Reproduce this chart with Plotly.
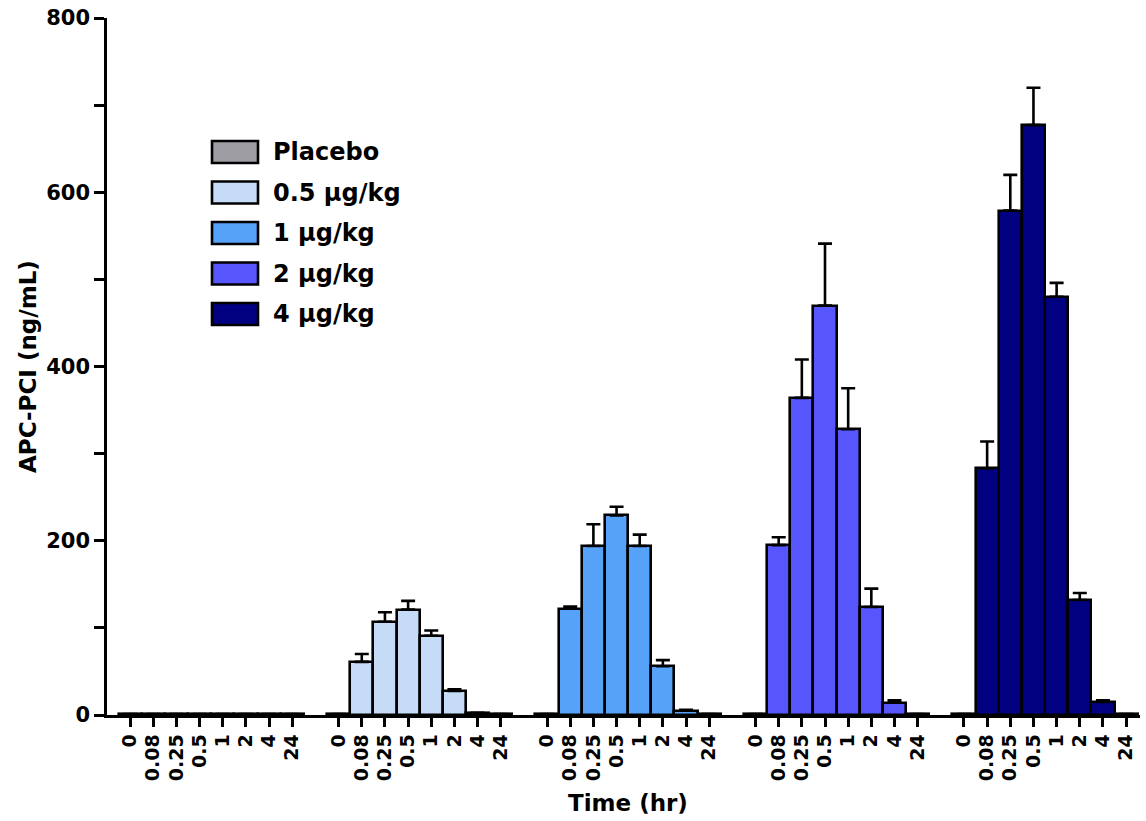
import plotly.graph_objects as go

times = ["0", "0.08", "0.25", "0.5", "1", "2", "4", "24"]
doses = ["Placebo", "0.5 μg/kg", "1 μg/kg", "2 μg/kg", "4 μg/kg"]
colors = ["#9d9da3", "#c6dcf6", "#57a2f9", "#5656fc", "#000080"]

placebo_mean = [1, 1, 1, 1, 1, 1, 1, 1]
placebo_err = [0, 0, 0, 0, 0, 0, 0, 0]
d05_mean = [1, 61, 107, 121, 91, 27.5, 2, 1]
d05_err = [0, 9, 11, 10, 6, 2, 0.5, 0]
d1_mean = [1, 122, 194, 229, 194, 56, 5, 1]
d1_err = [0, 2.5, 25, 10, 13, 7, 1, 0]
d2_mean = [1, 195, 364, 470, 328, 124, 14, 1]
d2_err = [0, 9, 44, 71, 47, 21, 3, 0]
d4_mean = [1, 283, 579, 677, 480, 132, 15, 1]
d4_err = [0, 31, 41, 43, 16, 8, 2, 0]

means = [placebo_mean, d05_mean, d1_mean, d2_mean, d4_mean]
errs = [placebo_err, d05_err, d1_err, d2_err, d4_err]

FONT = "DejaVu Sans, Arial, sans-serif"
LW = 2.6
slot = len(times) + 1

fig = go.Figure()
tickvals, ticktext = [], []
for g, (name, m, e, c) in enumerate(zip(doses, means, errs, colors)):
    xs = [g * slot + i for i in range(len(times))]
    tickvals += xs
    ticktext += times
    fig.add_trace(go.Bar(
        x=xs, y=m, name=name, width=1.0,
        marker=dict(color=c, line=dict(color="black", width=LW)),
        error_y=dict(type="data", array=[v if v > 0 else None for v in e],
                     arrayminus=[0] * len(e), symmetric=False,
                     color="black", thickness=LW, width=7),
        showlegend=False,
    ))

W, H = 1146, 821
L, R, T, B = 107, 6, 18, 106
pw, ph = W - L - R, H - T - B


def px(x):
    return (x - L) / pw


def py(y):
    return 1 - (y - T) / ph


# Legend drawn manually to match the swatch style
leg_x0, leg_x1 = 212, 258
leg_y0 = 152
leg_dy = 40.5
for i, (name, c) in enumerate(zip(doses, colors)):
    yc = leg_y0 + i * leg_dy
    fig.add_shape(type="rect", xref="paper", yref="paper",
                  x0=px(leg_x0), x1=px(leg_x1), y0=py(yc + 11), y1=py(yc - 11),
                  fillcolor=c, line=dict(color="black", width=LW))
    fig.add_annotation(xref="paper", yref="paper", x=px(271), y=py(yc),
                       text="<b>" + name + "</b>", showarrow=False,
                       xanchor="left", yanchor="middle",
                       font=dict(family=FONT, size=24, color="black"))

fig.add_annotation(xref="paper", yref="paper", x=px(628), y=py(803),
                   text="<b>Time (hr)</b>", showarrow=False,
                   xanchor="center", yanchor="middle",
                   font=dict(family=FONT, size=23, color="black"))
fig.add_annotation(xref="paper", yref="paper", x=px(28), y=py(367),
                   text="<b>APC-PCI (ng/mL)</b>", showarrow=False, textangle=-90,
                   xanchor="center", yanchor="middle",
                   font=dict(family=FONT, size=23, color="black"))

fig.update_layout(
    width=W, height=H,
    margin=dict(l=L, r=R, t=T, b=B, autoexpand=False),
    paper_bgcolor="white", plot_bgcolor="white",
    bargap=0,
    font=dict(family=FONT, color="black"),
    xaxis=dict(range=[-1, 43.6], tickmode="array", tickvals=tickvals,
               ticktext=["<b>" + t + "</b>" for t in ticktext],
               tickangle=-90, ticks="outside", ticklen=9, tickwidth=LW,
               tickcolor="black", showline=True, linecolor="black", linewidth=LW,
               showgrid=False, zeroline=False, ticklabeloverflow="allow",
               automargin=False,
               tickfont=dict(family=FONT, size=19, color="black")),
    yaxis=dict(range=[0, 800], tickvals=[0, 200, 400, 600, 800],
               ticktext=["<b>0</b>", "<b>200</b>", "<b>400</b>", "<b>600</b>", "<b>800</b>"],
               ticks="outside", ticklen=10, tickwidth=LW, tickcolor="black",
               showline=True, linecolor="black", linewidth=LW,
               showgrid=False, zeroline=False, ticklabeloverflow="allow",
               automargin=False,
               minor=dict(tickvals=[100, 300, 500, 700], ticks="outside", ticklen=10,
                          tickwidth=LW, tickcolor="black", showgrid=False),
               tickfont=dict(family=FONT, size=21, color="black")),
)

fig.write_html("out.html", config={"displayModeBar": False},
               post_script="document.body.style.margin='0';document.body.style.overflow='hidden';")
